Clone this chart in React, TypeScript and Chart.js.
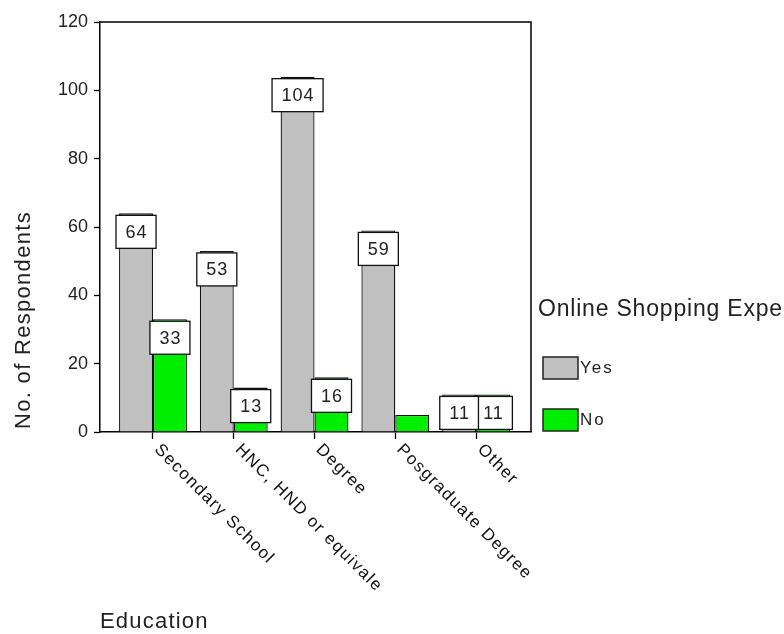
import { useEffect, useRef } from 'react';
import { Chart, registerables } from 'chart.js';

Chart.register(...registerables);

const categories = ['Secondary School', 'HNC, HND or equivale', 'Degree', 'Posgraduate Degree', 'Other'];
const seriesNames = ['Yes', 'No'];
const yesValues = [64, 53, 104, 59, 11];
const noValues = [33, 13, 16, 5, 11];
const yesLabelShown = [true, true, true, true, true];
const noLabelShown = [true, true, true, false, true];
const yTicks = [0, 20, 40, 60, 80, 100, 120];
const yTitle = 'No. of Respondents';
const xTitle = 'Education';
const legendTitle = 'Online Shopping Expe';

const GRAY = '#c0c0c0';
const GREEN = '#00ee00';
const FONT = '"Liberation Sans", Arial, sans-serif';

const W = 784;
const H = 634;

const decorPlugin = {
  id: 'decor',
  afterDatasetsDraw(chart: any) {
    const ctx = chart.ctx as CanvasRenderingContext2D;
    const ca = chart.chartArea;
    // frame top and right
    ctx.save();
    ctx.strokeStyle = '#000';
    ctx.lineWidth = 1.5;
    ctx.beginPath();
    ctx.moveTo(ca.left, ca.top);
    ctx.lineTo(ca.right, ca.top);
    ctx.lineTo(ca.right, ca.bottom);
    ctx.stroke();
    ctx.restore();

    // value label boxes: draw later series first so earlier series sit on top
    const shown = [yesLabelShown, noLabelShown];
    for (let d = chart.data.datasets.length - 1; d >= 0; d--) {
      const meta = chart.getDatasetMeta(d);
      meta.data.forEach((el: any, i: number) => {
        if (!shown[d][i]) return;
        const v = chart.data.datasets[d].data[i].y;
        const txt = String(v);
        ctx.save();
        ctx.font = `18px ${FONT}`;
        (ctx as any).letterSpacing = '1px';
        const tw = ctx.measureText(txt).width;
        const bw = tw + 18;
        const bh = 33;
        const bx = el.x - bw / 2;
        const by = el.y + 2;
        ctx.fillStyle = '#fff';
        ctx.fillRect(bx, by, bw, bh);
        ctx.strokeStyle = '#111';
        ctx.lineWidth = 1.3;
        ctx.strokeRect(bx, by, bw, bh);
        ctx.fillStyle = '#222';
        ctx.textAlign = 'center';
        ctx.textBaseline = 'middle';
        ctx.fillText(txt, el.x + 0.5, by + bh / 2 + 1);
        ctx.restore();
      });
    }
  },
  afterDraw(chart: any) {
    const ctx = chart.ctx as CanvasRenderingContext2D;
    const ca = chart.chartArea;
    const xs = chart.scales.x;

    // rotated category labels
    categories.forEach((c, i) => {
      const tx = xs.getPixelForValue(i);
      ctx.save();
      ctx.translate(tx + 4, ca.bottom + 15);
      ctx.rotate(Math.PI / 4);
      ctx.font = `17px ${FONT}`;
      (ctx as any).letterSpacing = '1.5px';
      ctx.fillStyle = '#111';
      ctx.textAlign = 'left';
      ctx.textBaseline = 'middle';
      ctx.fillText(c, 0, 0);
      ctx.restore();
    });

    // y title
    ctx.save();
    ctx.translate(24, (ca.top + ca.bottom) / 2 + 93);
    ctx.rotate(-Math.PI / 2);
    ctx.font = `22px ${FONT}`;
    (ctx as any).letterSpacing = '1.3px';
    ctx.fillStyle = '#222';
    ctx.textAlign = 'center';
    ctx.textBaseline = 'middle';
    ctx.fillText(yTitle, 0, 0);
    ctx.restore();

    // x title
    ctx.save();
    ctx.font = `22px ${FONT}`;
    (ctx as any).letterSpacing = '1.2px';
    ctx.fillStyle = '#222';
    ctx.textAlign = 'left';
    ctx.textBaseline = 'middle';
    ctx.fillText(xTitle, ca.left, 622);
    ctx.restore();

    // legend
    ctx.save();
    ctx.font = `23px ${FONT}`;
    (ctx as any).letterSpacing = '0.8px';
    ctx.fillStyle = '#222';
    ctx.textAlign = 'left';
    ctx.textBaseline = 'middle';
    ctx.fillText(legendTitle, 538, 310);
    const colors = [GRAY, GREEN];
    const ys = [368, 420];
    seriesNames.forEach((n, k) => {
      ctx.fillStyle = colors[k];
      ctx.fillRect(543, ys[k] - 11, 35, 22);
      ctx.strokeStyle = '#222';
      ctx.lineWidth = 1.5;
      ctx.strokeRect(543, ys[k] - 11, 35, 22);
      ctx.font = `17px ${FONT}`;
      (ctx as any).letterSpacing = '2px';
      ctx.fillStyle = '#222';
      ctx.fillText(n, 580, ys[k]);
    });
    ctx.restore();
  },
};

export default function App() {
  const ref = useRef<HTMLCanvasElement | null>(null);

  useEffect(() => {
    if (!ref.current) return;
    const chart = new Chart(ref.current, {
      type: 'bar',
      data: {
        datasets: [
          {
            label: seriesNames[0],
            data: yesValues.map((v, i) => ({ x: i, y: v })),
            backgroundColor: GRAY,
            borderColor: '#111',
            borderWidth: 1.3,
          },
          {
            label: seriesNames[1],
            data: noValues.map((v, i) => ({ x: i, y: v })),
            backgroundColor: GREEN,
            borderColor: '#111',
            borderWidth: 1.3,
          },
        ],
      },
      options: {
        responsive: false,
        animation: false,
        devicePixelRatio: 1,
        datasets: { bar: { categoryPercentage: 0.84, barPercentage: 1 } },
        layout: { padding: { left: 0, top: 22, right: 253, bottom: 0 } },
        plugins: { legend: { display: false }, tooltip: { enabled: false } },
        scales: {
          x: {
            type: 'linear',
            offset: false,
            min: -0.656,
            max: 4.68,
            afterBuildTicks: (s: any) => {
              s.ticks = categories.map((_, i) => ({ value: i }));
            },
            afterFit: (s: any) => {
              s.height = H - 432;
            },
            ticks: { display: false },
            grid: { offset: false, drawOnChartArea: false, drawTicks: true, tickLength: 7, tickColor: '#000', tickWidth: 1.3 },
            border: { display: true, color: '#000', width: 1.5 },
          },
          y: {
            min: 0,
            max: 120,
            afterBuildTicks: (s: any) => {
              s.ticks = yTicks.map((v) => ({ value: v }));
            },
            afterFit: (s: any) => {
              s.width = 100;
            },
            ticks: {
              color: '#222',
              padding: 6,
              font: { family: FONT, size: 18 },
            },
            grid: { drawOnChartArea: false, drawTicks: true, tickLength: 6, tickColor: '#000', tickWidth: 1.3 },
            border: { display: true, color: '#000', width: 1.5 },
          },
        },
      },
      plugins: [decorPlugin],
    } as any);
    return () => chart.destroy();
  }, []);

  return (
    <div style={{ position: 'fixed', left: 0, top: 0, width: W, height: H, background: '#fff' }}>
      <canvas ref={ref} width={W} height={H} style={{ display: 'block', width: W, height: H }} />
    </div>
  );
}
